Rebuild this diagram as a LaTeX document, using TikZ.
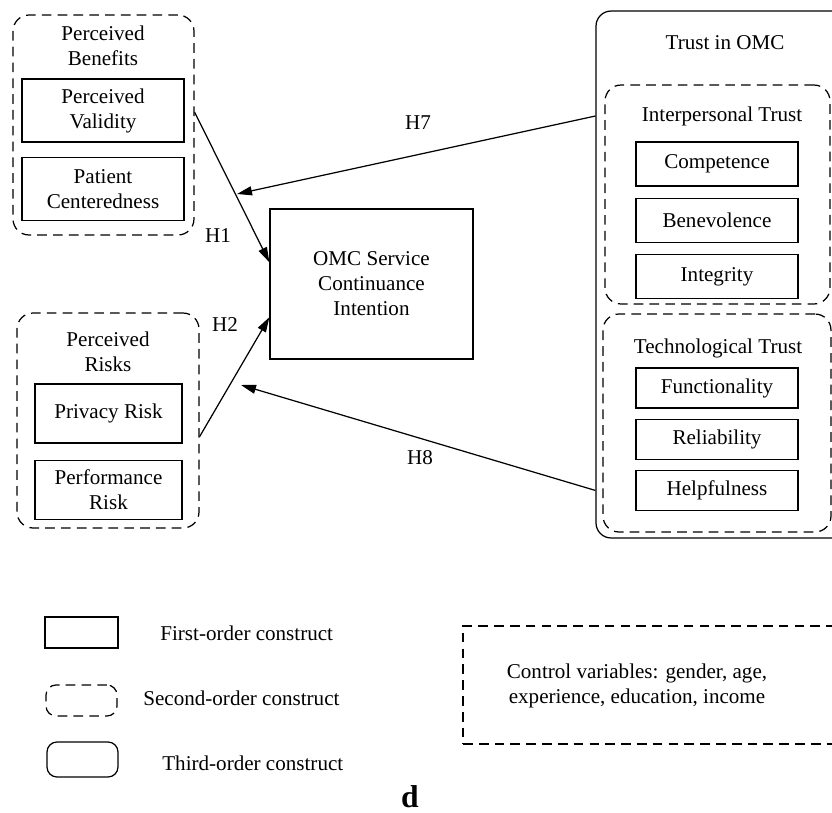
\documentclass[tikz,border=0pt]{standalone}
\usepackage{fontspec}
\setmainfont{Liberation Serif}
\usetikzlibrary{positioning,arrows.meta,calc}

\begin{document}
\begin{tikzpicture}[x=0.02cm, y=-0.02cm, node distance=0.22cm,
      font=\fontsize{12}{14.2}\selectfont,
      first/.style={draw, line width=0.7pt, minimum width=3.24cm, align=center},
      second/.style={draw, line width=0.7pt, dash pattern=on 5.5pt off 3.5pt, rounded corners=0.32cm},
      third/.style={draw, line width=0.7pt, rounded corners=0.3cm},
      title/.style={align=center},
      hyp/.style={-{Triangle[length=0.3cm,width=0.18cm]}, line width=0.7pt},
      lgtext/.style={inner sep=0pt, anchor=west}]
      \clip (0,0) rectangle (832,812);

      % benefits
      \node[second, minimum width=3.62cm, minimum height=4.4cm] (pb) at (103.5,125) {};
      \node[title] (pbt) at (103,46) {Perceived\\Benefits};
      \node[first, minimum height=1.26cm] (pv) at (103,110.5) {Perceived\\Validity};
      \node[first, minimum height=1.26cm] (pc) [below=0.28cm of pv] {Patient\\Centeredness};

      % risks
      \node[second, minimum width=3.64cm, minimum height=4.3cm] (pr) at (108,420.5) {};
      \node[title] (prt) at (108,352) {Perceived\\Risks};
      \node[first, minimum width=2.94cm, minimum height=1.18cm] (prv) at (108.5,413.5) {Privacy Risk};
      \node[first, minimum width=2.94cm, minimum height=1.18cm] (prf) [below=0.32cm of prv] {Performance\\Risk};

      % outcome
      \node[first, minimum width=4.06cm, minimum height=3cm] (omc) at (371.5,284) {OMC Service\\Continuance\\Intention};

      % trust in OMC, open to the right
      \node[third, minimum width=5.4cm, minimum height=10.54cm] (trust) at (731,274.5) {};
      \node (trt) at (725,43) {Trust in OMC};
      \node[second, minimum width=4.5cm, minimum height=4.38cm] (it) at (717.5,194.5) {};
      \node (itt) at (722,116) {Interpersonal Trust};
      \node[first, minimum height=0.88cm] (cmp) at (717,164) {Competence};
      \node[first, minimum height=0.88cm] (ben) [below=of cmp] {Benevolence};
      \node[first, minimum height=0.88cm] (itg) [below=of ben] {Integrity};
      \node[second, minimum width=4.56cm, minimum height=4.36cm] (tt) at (717,423) {};
      \node (ttt) at (718,348) {Technological Trust};
      \node[first, minimum height=0.8cm] (fun) at (717,388) {Functionality};
      \node[first, minimum height=0.8cm] (rel) [below=0.2cm of fun] {Reliability};
      \node[first, minimum height=0.8cm] (hlp) [below=0.2cm of rel] {Helpfulness};

      % hypotheses
      \coordinate (m7) at (237,194);
      \coordinate (m8) at (241,385);
      \draw[hyp] (pb.8) to (omc.168);
      \draw[hyp] (pr.-10) to (omc.198);
      \draw[hyp] (itt -| trust.west) to (m7);
      \draw[hyp] (hlp -| trust.west) to (m8);
      \node (h1) at (218,236) {H1};
      \node (h2) at (225,325) {H2};
      \node (h7) at (418,123) {H7};
      \node (h8) at (420,458) {H8};

      % legend
      \node[first, minimum width=1.46cm, minimum height=0.62cm] (lg1) at (81.5,632.5) {};
      \node[second, rounded corners=0.2cm, minimum width=1.42cm, minimum height=0.62cm] (lg2) at (81.5,700.5) {};
      \node[third, rounded corners=0.2cm, minimum width=1.42cm, minimum height=0.7cm] (lg3) at (82.5,759.5) {};
      \node[lgtext] (lg1t) at (160,633) {First-order construct};
      \node[lgtext] (lg2t) at (143,698) {Second-order construct};
      \node[lgtext] (lg3t) at (162,763) {Third-order construct};

      % controls, open to the right
      \node[draw, line width=0.7pt, dash pattern=on 5.5pt off 3.5pt, minimum width=8.4cm, minimum height=2.36cm] (cv) at (673,685) {};
      \node[title] (cvt) at (637,686) {Control variables: gender, age,\\experience, education, income};

      \node[font=\fontsize{18}{20}\selectfont\bfseries] (tag) at (410,797) {d};
\end{tikzpicture}
\end{document}
